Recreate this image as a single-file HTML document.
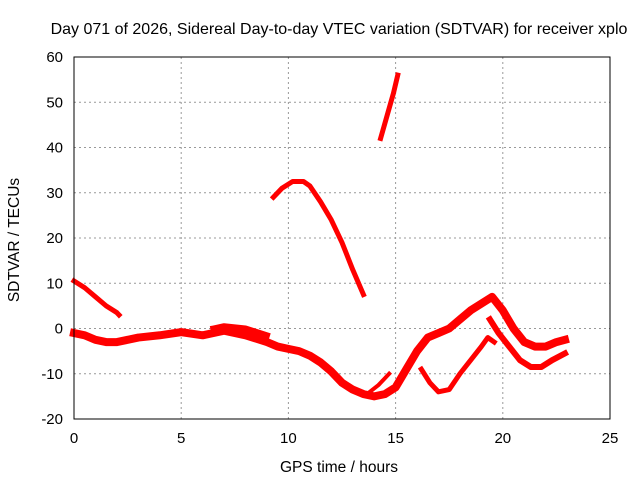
<!DOCTYPE html>
<html><head><meta charset="utf-8"><style>
body{margin:0;background:#fff}
svg{display:block;font-family:"Liberation Sans",sans-serif}
</style></head><body>
<svg id="c" width="640" height="480">
<text x="339" y="34" font-size="16" text-anchor="middle">Day 071 of 2026, Sidereal Day-to-day VTEC variation (SDTVAR) for receiver xplo</text>
<text x="339" y="472" font-size="15.5" text-anchor="middle">GPS time / hours</text>
<text transform="translate(19,240) rotate(-90)" font-size="15.5" text-anchor="middle">SDTVAR / TECUs</text>
<g id="grid"></g><g id="ticks"></g><g id="series"></g>
<rect x="74" y="57" width="536" height="362" fill="none" stroke="#000"/>
</svg>
<script>
const xTicks=[0,5,10,15,20,25];
const yTicks=[-20,-10,0,10,20,30,40,50,60];
const trackA=[[0,10.5],[0.5,9],[1,7],[1.5,5],[2,3.5],[2.1,3]];
const trackB=[[0,-1],[0.5,-1.5],[1,-2.5],[1.5,-3],[2,-3],[2.5,-2.5],[3,-2],[4,-1.5],[5,-0.8],[6,-1.5],[7,-0.5],[8,-1.5],[9,-3],[9.5,-4],[10,-4.5],[10.5,-5],[11,-6],[11.5,-7.5],[12,-9.5],[12.5,-12],[13,-13.5],[13.5,-14.5],[14,-15],[14.5,-14.5],[15,-13],[15.5,-9],[16,-5],[16.5,-2],[17,-1],[17.5,0],[18,2],[18.5,4],[19,5.5],[19.5,7],[20,4],[20.5,0],[21,-3],[21.5,-4],[22,-4],[22.5,-3],[22.9,-2.5]];
const trackB2=[[6.5,0],[7,0.5],[8,0],[9,-1.5]];
const trackC=[[9.3,29],[9.7,31],[10.2,32.5],[10.7,32.5],[11,31.5],[11.5,28],[12,24],[12.5,19],[13,13],[13.5,7.5]];
const trackD=[[14.3,42],[14.6,47],[14.9,52],[15.1,56]];
const trackE=[[16.2,-9],[16.6,-12],[17,-14],[17.5,-13.5],[18,-10],[18.5,-7],[19,-4],[19.3,-2],[19.6,-3]];
const trackF=[[19.4,2],[19.8,-1],[20.3,-4],[20.8,-7],[21.3,-8.5],[21.8,-8.5],[22.3,-7],[22.9,-5.5]];
const trackG=[[13.8,-14],[14.2,-12.5],[14.7,-10]];
const X=h=>74+h*536/25, Y=v=>328.5-v*362/80;
const NS="http://www.w3.org/2000/svg";
function mk(t,a,p){const e=document.createElementNS(NS,t);for(const k in a)e.setAttribute(k,a[k]);document.getElementById(p).appendChild(e);return e;}
xTicks.forEach(t=>{
  if(t>0&&t<25){const g=mk('line',{x1:X(t),x2:X(t),y1:57,y2:419,stroke:'#999','stroke-dasharray':'2,3'},'grid');
  
  }
  const l=mk('text',{x:X(t),y:443,'font-size':15,'text-anchor':'middle'},'ticks');l.textContent=t;
  
  
});
yTicks.forEach(t=>{
  if(t>-20&&t<60){const g=mk('line',{x1:74,x2:610,y1:Y(t),y2:Y(t),stroke:'#999','stroke-dasharray':'2,3'},'grid');
  
  }
  const l=mk('text',{x:63,y:Y(t)+5,'font-size':15,'text-anchor':'end'},'ticks');l.textContent=t;
  
  
});
[[trackA,5],[trackB,8],[trackB2,6],[trackC,5],[trackD,5],[trackE,5],[trackF,6],[trackG,4]].forEach(([d,w],i)=>{
  const p=mk('polyline',{points:d.map(q=>X(q[0])+','+Y(q[1])).join(' '),fill:'none',stroke:'#f00','stroke-width':w,'stroke-linejoin':'round','stroke-linecap':'square'},'series');
  
  
});
</script>
</body></html>
